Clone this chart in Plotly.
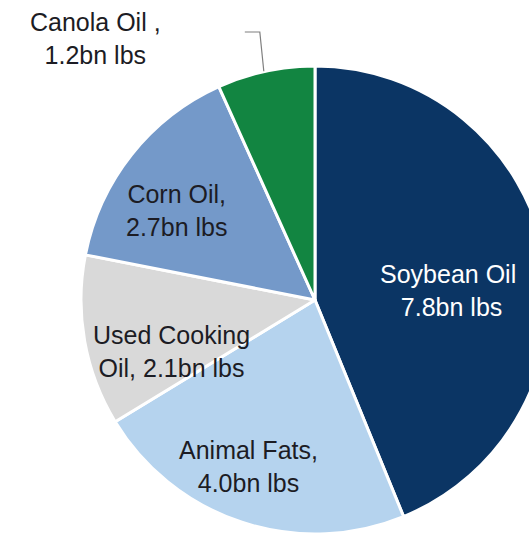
import math
import plotly.graph_objects as go

# ---- data ----
categories = ["Soybean Oil", "Animal Fats", "Used Cooking Oil", "Corn Oil", "Canola Oil"]
values_bn_lbs = [7.8, 4.0, 2.1, 2.7, 1.2]
label_texts = [
    "Soybean Oil<br> 7.8bn lbs",
    "Animal Fats,<br>4.0bn lbs",
    "Used Cooking<br>Oil, 2.1bn lbs",
    "Corn Oil,<br>2.7bn lbs",
    "Canola Oil ,<br>1.2bn lbs",
]

# ---- styles / layout ----
colors = ["#0b3564", "#b5d3ee", "#d9d9d9", "#7499c9", "#128541"]
text_colors = ["#ffffff", "#1c1c24", "#1c1c24", "#1c1c24", "#1c1c24"]
W, H = 560, 545
CX, CY, R = 315, 300, 234  # pie center / radius in page pixels
label_px = [(448, 290), (248, 466), (171, 351), (176, 210), (95, 38)]


def px_to_paper(x, y):
    return x / W, 1 - y / H


fig = go.Figure(
    go.Pie(
        labels=categories,
        values=values_bn_lbs,
        sort=False,
        direction="clockwise",
        rotation=0,
        marker=dict(colors=colors, line=dict(color="#ffffff", width=3)),
        textinfo="none",
        hoverinfo="skip",
        showlegend=False,
        domain=dict(x=[(CX - R) / W, (CX + R) / W], y=[1 - (CY + R) / H, 1 - (CY - R) / H]),
    )
)

annotations = []
for txt, (lx, ly), tc in zip(label_texts, label_px, text_colors):
    ax, ay = px_to_paper(lx, ly)
    annotations.append(
        dict(
            x=ax, y=ay, xref="paper", yref="paper", text=txt, showarrow=False,
            xanchor="center", yanchor="middle", align="center",
            font=dict(family="Liberation Sans, Arial, sans-serif", size=25, color=tc),
        )
    )

# leader line for the small Canola slice, from its mid-angle on the rim
total = sum(values_bn_lbs)
start = sum(values_bn_lbs[:-1]) / total * 360
mid = math.radians((start + 360) / 2)
ex, ey = CX + R * math.sin(mid), CY - R * math.cos(mid)
p_end = px_to_paper(ex - 2, ey)
p_knee = px_to_paper(ex - 6, 32)
p_tail = px_to_paper(ex - 21, 32)
shapes = [
    dict(type="path", xref="paper", yref="paper",
         path=f"M {p_tail[0]} {p_tail[1]} L {p_knee[0]} {p_knee[1]} L {p_end[0]} {p_end[1]}",
         line=dict(color="#7f7f7f", width=1.2))
]

fig.update_layout(
    width=W, height=H,
    margin=dict(l=0, r=0, t=0, b=0),
    paper_bgcolor="#ffffff",
    plot_bgcolor="#ffffff",
    annotations=annotations,
    shapes=shapes,
)

fig.write_html(
    "out.html",
    config={"displayModeBar": False},
    post_script="document.body.style.margin='0';document.body.style.overflow='hidden';document.documentElement.style.overflow='hidden';",
)
